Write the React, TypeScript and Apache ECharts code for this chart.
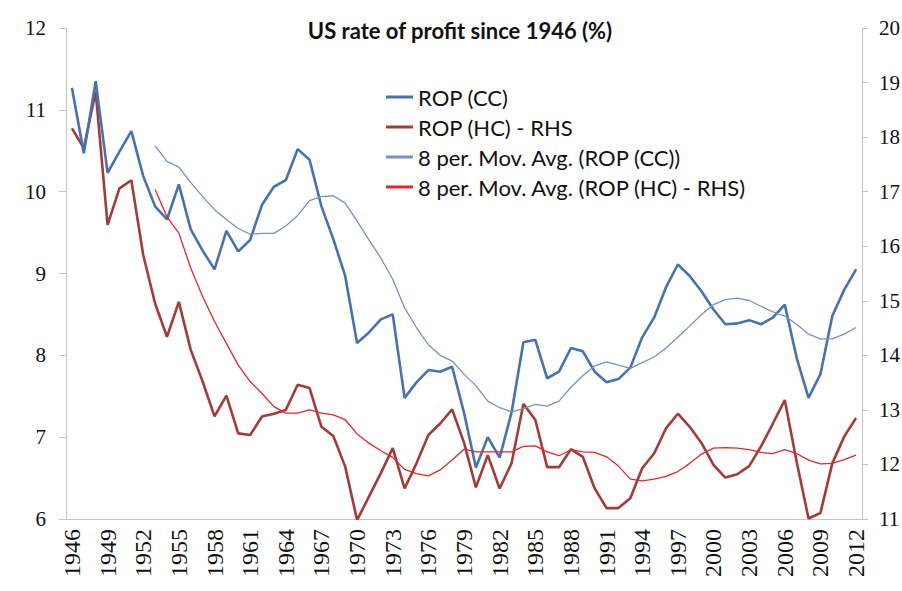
import React, { useEffect, useRef } from "react";
import * as echarts from "echarts";

const years: string[] = [];
for (let y = 1946; y <= 2012; y++) years.push(String(y));

// ROP (CC), left axis, 1946-2012
const ropCC = [
  11.27, 10.47, 11.35, 10.23, 10.49, 10.74, 10.19, 9.82, 9.66, 10.09,
  9.54, 9.28, 9.05, 9.52, 9.27, 9.41, 9.84, 10.06, 10.14, 10.52,
  10.39, 9.82, 9.42, 8.97, 8.15, 8.28, 8.44, 8.5, 7.48, 7.67,
  7.82, 7.8, 7.86, 7.3, 6.63, 7.0, 6.75, 7.3, 8.16, 8.19,
  7.72, 7.8, 8.09, 8.05, 7.8, 7.67, 7.71, 7.85, 8.22, 8.46,
  8.83, 9.11, 8.97, 8.78, 8.56, 8.38, 8.39, 8.43, 8.38, 8.46,
  8.62, 7.97, 7.48, 7.77, 8.48, 8.8, 9.05,
];

// ROP (HC) - RHS, right axis, 1946-2012
const ropHC = [
  18.16, 17.8, 18.83, 16.39, 17.06, 17.21, 15.84, 14.95, 14.34, 14.98,
  14.1, 13.52, 12.88, 13.26, 12.57, 12.54, 12.88, 12.93, 13.0, 13.46,
  13.4, 12.69, 12.52, 11.96, 10.98, 11.41, 11.84, 12.3, 11.56, 12.02,
  12.54, 12.75, 13.01, 12.4, 11.58, 12.17, 11.56, 12.02, 13.11, 12.82,
  11.95, 11.95, 12.28, 12.14, 11.56, 11.2, 11.2, 11.38, 11.93, 12.2,
  12.66, 12.93, 12.69, 12.39, 11.99, 11.76, 11.82, 11.97, 12.33, 12.75,
  13.18, 12.05, 11.01, 11.11, 12.02, 12.51, 12.85,
];

// 8 per. Mov. Avg. (ROP (CC)), 1953-2012
const maCC = [
  10.56, 10.37, 10.3, 10.11, 9.94, 9.78, 9.66, 9.55, 9.48, 9.49,
  9.49, 9.58, 9.71, 9.89, 9.94, 9.95, 9.86, 9.64, 9.41, 9.19,
  8.93, 8.58, 8.34, 8.13, 8.0, 7.93, 7.77, 7.63, 7.44, 7.36,
  7.31, 7.35, 7.4, 7.38, 7.44, 7.61, 7.75, 7.87, 7.92, 7.88,
  7.84, 7.91, 7.98, 8.09, 8.22, 8.36, 8.5, 8.62, 8.68, 8.7,
  8.67, 8.6, 8.53, 8.48, 8.38, 8.26, 8.2, 8.2, 8.26, 8.34,
];

// 8 per. Mov. Avg. (ROP (HC) - RHS), 1953-2012
const maHC = [
  17.04, 16.54, 16.24, 15.6, 15.08, 14.62, 14.22, 13.82, 13.52, 13.3,
  13.06, 12.94, 12.94, 13.0, 12.94, 12.91, 12.82, 12.56, 12.39, 12.25,
  12.13, 11.91, 11.83, 11.79, 11.9, 12.08, 12.28, 12.23, 12.23, 12.23,
  12.23, 12.33, 12.34, 12.23, 12.16, 12.27, 12.23, 12.22, 12.14, 11.97,
  11.73, 11.7, 11.73, 11.78, 11.87, 12.02, 12.19, 12.3, 12.31, 12.3,
  12.27, 12.22, 12.2, 12.27, 12.2, 12.08, 12.01, 12.02, 12.09, 12.17,
];

const maStart = 7; // 1953
const pad = (arr: number[]) => [...new Array(maStart).fill(null), ...arr];

const leftTicks = { min: 6, max: 12, interval: 1 };
const rightTicks = { min: 11, max: 20, interval: 1 };

const C_CC = "#4573b0";
const C_HC = "#a63a38";
const C_MACC = "#7393c2";
const C_MAHC = "#e0292b";

export default function App() {
  const ref = useRef<HTMLDivElement>(null);
  useEffect(() => {
    document.body.style.margin = "0";
    const chart = echarts.init(ref.current!, undefined, { renderer: "svg" });
    const axisGray = "#c4c4c4";
    const serif = "Liberation Serif";
    chart.setOption({
      animation: false,
      backgroundColor: "#ffffff",
      title: {
        text: "US rate of profit since 1946 (%)",
        left: 460,
        top: 19,
        padding: 0,
        textAlign: "center",
        textStyle: { fontFamily: "Lato", fontWeight: "bold", fontSize: 22, color: "#111" },
      },
      legend: {
        orient: "vertical",
        left: 386,
        top: 86,
        padding: 0,
        itemWidth: 27,
        itemHeight: 3,
        itemGap: 8,
        textStyle: { fontFamily: "Lato", fontSize: 22, lineHeight: 22, color: "#111" },
        data: [
          { name: "ROP (CC)", icon: "rect", itemStyle: { color: C_CC } },
          { name: "ROP (HC) - RHS", icon: "rect", itemStyle: { color: C_HC } },
          { name: "8 per. Mov. Avg. (ROP (CC))", icon: "rect", itemStyle: { color: C_MACC } },
          { name: "8 per. Mov. Avg. (ROP (HC) - RHS)", icon: "rect", itemStyle: { color: C_MAHC } },
        ],
      },
      grid: { left: 66, right: 40, top: 28, bottom: 72, containLabel: false, outerBoundsMode: "none" },
      xAxis: {
        type: "category",
        data: years,
        boundaryGap: true,
        axisLine: { lineStyle: { color: axisGray } },
        axisTick: { interval: 0, length: 6, lineStyle: { color: axisGray } },
        axisLabel: {
          interval: 2,
          rotate: 90,
          margin: 10,
          fontFamily: serif,
          fontSize: 24,
          color: "#111",
        },
        splitLine: { show: false },
      },
      yAxis: [
        {
          type: "value",
          ...leftTicks,
          position: "left",
          axisLine: { show: true, lineStyle: { color: axisGray } },
          axisTick: { show: true, length: 7, lineStyle: { color: axisGray } },
          axisLabel: { margin: 20, fontFamily: serif, fontSize: 21, color: "#111" },
          splitLine: { show: false },
        },
        {
          type: "value",
          ...rightTicks,
          position: "right",
          axisLine: { show: true, lineStyle: { color: axisGray } },
          axisTick: { show: true, length: 6, lineStyle: { color: axisGray } },
          axisLabel: { margin: 17, fontFamily: serif, fontSize: 21, color: "#111" },
          splitLine: { show: false },
        },
      ],
      series: [
        {
          name: "ROP (CC)",
          type: "line",
          yAxisIndex: 0,
          data: ropCC,
          symbol: "none",
          lineStyle: { color: C_CC, width: 2.6 },
          itemStyle: { color: C_CC },
          z: 4,
        },
        {
          name: "ROP (HC) - RHS",
          type: "line",
          yAxisIndex: 1,
          data: ropHC,
          symbol: "none",
          lineStyle: { color: C_HC, width: 2.6 },
          itemStyle: { color: C_HC },
          z: 3,
        },
        {
          name: "8 per. Mov. Avg. (ROP (CC))",
          type: "line",
          yAxisIndex: 0,
          data: pad(maCC),
          symbol: "none",
          lineStyle: { color: C_MACC, width: 1.3 },
          itemStyle: { color: C_MACC },
          z: 5,
        },
        {
          name: "8 per. Mov. Avg. (ROP (HC) - RHS)",
          type: "line",
          yAxisIndex: 1,
          data: pad(maHC),
          symbol: "none",
          lineStyle: { color: C_MAHC, width: 1.3 },
          itemStyle: { color: C_MAHC },
          z: 5,
        },
      ],
    });
    return () => chart.dispose();
  }, []);
  return <div ref={ref} style={{ width: 902, height: 591 }} />;
}
